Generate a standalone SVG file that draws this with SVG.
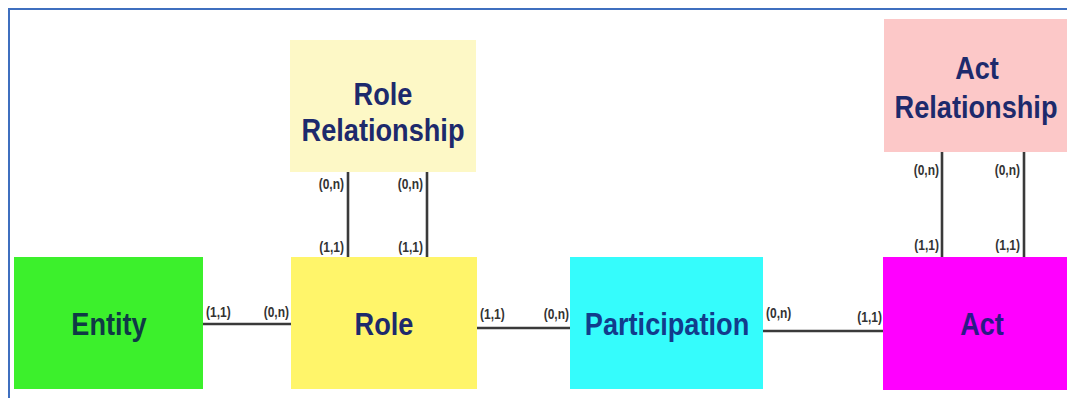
<svg xmlns="http://www.w3.org/2000/svg" width="1067" height="398" viewBox="0 0 1067 398">
<style>
.lbl{font-family:"Liberation Sans",Arial,sans-serif;font-weight:bold;font-size:28px;fill:#1d2a6c;text-anchor:middle}
.card{font-family:"Liberation Sans",Arial,sans-serif;font-weight:bold;font-size:12px;fill:#333}
.end{text-anchor:end}
.conn{stroke:#3a3a3a;stroke-width:2.6;fill:none}
</style>
<rect width="1067" height="398" fill="#ffffff"/>
<path d="M9,398 V9 H1067" fill="none" stroke="#3f6fbf" stroke-width="2"/>

<g id="connectors">
<line class="conn" x1="203" y1="324" x2="291" y2="324"/>
<line class="conn" x1="477" y1="328" x2="570" y2="328"/>
<line class="conn" x1="763" y1="331" x2="883" y2="331"/>
<line class="conn" x1="348" y1="172" x2="348" y2="257"/>
<line class="conn" x1="427" y1="172" x2="427" y2="257"/>
<line class="conn" x1="942" y1="152" x2="942" y2="257"/>
<line class="conn" x1="1024" y1="152" x2="1024" y2="257"/>
<text class="card" transform="translate(206,317) scale(1,1.15)">(1,1)</text>
<text class="card end" transform="translate(289,317) scale(1,1.15)">(0,n)</text>
<text class="card" transform="translate(480,319) scale(1,1.15)">(1,1)</text>
<text class="card end" transform="translate(569,319) scale(1,1.15)">(0,n)</text>
<text class="card" transform="translate(766,318) scale(1,1.15)">(0,n)</text>
<text class="card end" transform="translate(882,322) scale(1,1.15)">(1,1)</text>
<text class="card end" transform="translate(344,189) scale(1,1.15)">(0,n)</text>
<text class="card end" transform="translate(344,252) scale(1,1.15)">(1,1)</text>
<text class="card end" transform="translate(423,189) scale(1,1.15)">(0,n)</text>
<text class="card end" transform="translate(423,252) scale(1,1.15)">(1,1)</text>
<text class="card end" transform="translate(939,175) scale(1,1.15)">(0,n)</text>
<text class="card end" transform="translate(939,250) scale(1,1.15)">(1,1)</text>
<text class="card end" transform="translate(1020,175) scale(1,1.15)">(0,n)</text>
<text class="card end" transform="translate(1020,250) scale(1,1.15)">(1,1)</text>
</g>

<g id="entity">
<rect x="14" y="257" width="189" height="132" fill="#3cf02c"/>
<text class="lbl" transform="translate(109,335) scale(0.97,1.12)" style="fill:#0f3a45">Entity</text>
</g>
<g id="role">
<rect x="291" y="257" width="186" height="132" fill="#fff56a"/>
<text class="lbl" transform="translate(384,335) scale(0.97,1.12)">Role</text>
</g>
<g id="participation">
<rect x="570" y="257" width="193" height="132" fill="#35fcfc"/>
<text class="lbl" transform="translate(667,335) scale(0.97,1.12)" style="fill:#123c8c">Participation</text>
</g>
<g id="act">
<rect x="883" y="257" width="184" height="133" fill="#ff00ff"/>
<text class="lbl" transform="translate(982,335) scale(0.97,1.12)" style="fill:#2b1a86">Act</text>
</g>
<g id="role-relationship">
<rect x="290" y="40" width="186" height="132" fill="#fdf8c6"/>
<text class="lbl" transform="translate(383,105) scale(0.97,1.12)">Role</text>
<text class="lbl" transform="translate(383,141) scale(0.97,1.12)">Relationship</text>
</g>
<g id="act-relationship">
<rect x="884" y="19" width="183" height="133" fill="#fcc8c8"/>
<text class="lbl" transform="translate(977,79) scale(0.97,1.12)">Act</text>
<text class="lbl" transform="translate(976,118) scale(0.97,1.12)">Relationship</text>
</g>
</svg>
